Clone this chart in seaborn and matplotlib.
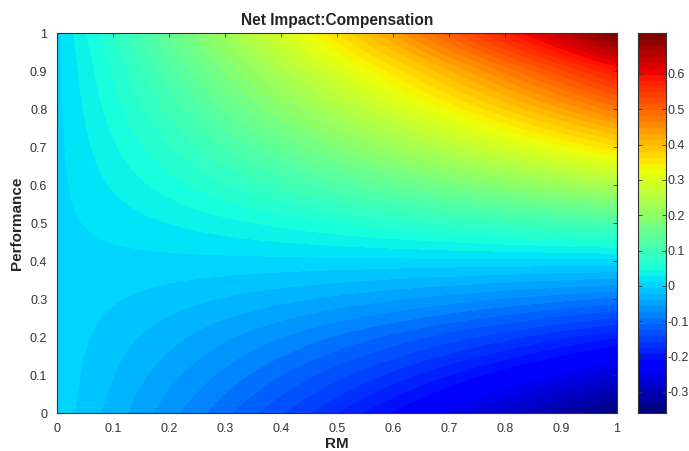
import numpy as np
import matplotlib
matplotlib.use("Agg")
import matplotlib.pyplot as plt
from matplotlib.colors import ListedColormap, BoundaryNorm
import seaborn as sns

# ---- data ----
rm_values = [0.0, 0.1, 0.2, 0.3, 0.4, 0.5, 0.6, 0.7, 0.8, 0.9, 1.0]
performance_values = [0.0, 0.1, 0.2, 0.3, 0.4, 0.5, 0.6, 0.7, 0.8, 0.9, 1.0]
# rows: Performance (0 -> 1), columns: RM (0 -> 1)
net_impact = [
    [0.005, -0.031, -0.067, -0.103, -0.139, -0.175, -0.211, -0.247, -0.283, -0.319, -0.355],
    [0.005, -0.023, -0.051, -0.079, -0.107, -0.135, -0.163, -0.191, -0.219, -0.247, -0.275],
    [0.005, -0.015, -0.034, -0.054, -0.073, -0.093, -0.112, -0.132, -0.151, -0.171, -0.190],
    [0.005, -0.005, -0.015, -0.025, -0.035, -0.045, -0.055, -0.065, -0.075, -0.085, -0.095],
    [0.005, 0.005, 0.005, 0.005, 0.005, 0.005, 0.005, 0.005, 0.005, 0.005, 0.005],
    [0.005, 0.016, 0.027, 0.038, 0.049, 0.060, 0.071, 0.082, 0.093, 0.104, 0.115],
    [0.005, 0.029, 0.052, 0.076, 0.099, 0.123, 0.146, 0.170, 0.193, 0.217, 0.240],
    [0.005, 0.041, 0.076, 0.112, 0.147, 0.183, 0.218, 0.254, 0.289, 0.325, 0.360],
    [0.005, 0.052, 0.099, 0.146, 0.193, 0.240, 0.287, 0.334, 0.381, 0.428, 0.475],
    [0.005, 0.063, 0.121, 0.179, 0.237, 0.295, 0.353, 0.411, 0.469, 0.527, 0.585],
    [0.005, 0.077, 0.148, 0.220, 0.291, 0.363, 0.434, 0.506, 0.577, 0.649, 0.720],
]
axis_ticks = [0.0, 0.1, 0.2, 0.3, 0.4, 0.5, 0.6, 0.7, 0.8, 0.9, 1.0]
axis_tick_labels = ["0", "0.1", "0.2", "0.3", "0.4", "0.5", "0.6", "0.7", "0.8", "0.9", "1"]
cbar_ticks = [-0.3, -0.2, -0.1, 0.0, 0.1, 0.2, 0.3, 0.4, 0.5, 0.6]
cbar_tick_labels = ["-0.3", "-0.2", "-0.1", "0", "0.1", "0.2", "0.3", "0.4", "0.5", "0.6"]
color_min, color_max = -0.36, 0.716

# ---- style ----
sns.set_style("white")
plt.rcParams["font.family"] = ["Liberation Sans", "DejaVu Sans"]

n_bands = 64
jet = matplotlib.colormaps["jet"]
cmap = ListedColormap(jet(np.linspace(0, 1, n_bands)))
levels = np.linspace(color_min, color_max, n_bands + 1)
norm = BoundaryNorm(levels, cmap.N)

fig = plt.figure(figsize=(6.89, 4.51), dpi=100)
ax = fig.add_axes([57 / 689, 38 / 451, 560 / 689, 380 / 451])
cax = fig.add_axes([638 / 689, 38 / 451, 28 / 689, 380 / 451])

Z = np.array(net_impact)
# pixel centres sit exactly on the grid values
dx = (rm_values[-1] - rm_values[0]) / (len(rm_values) - 1)
dy = (performance_values[-1] - performance_values[0]) / (len(performance_values) - 1)
im = ax.imshow(Z, origin="lower",
               extent=[rm_values[0] - dx / 2, rm_values[-1] + dx / 2,
                       performance_values[0] - dy / 2, performance_values[-1] + dy / 2],
               aspect="auto", cmap=cmap, norm=norm, interpolation="bilinear",
               interpolation_stage="data")

ax.set_xlim(0, 1)
ax.set_ylim(0, 1)
ax.set_xticks(axis_ticks)
ax.set_xticklabels(axis_tick_labels)
ax.set_yticks(axis_ticks)
ax.set_yticklabels(axis_tick_labels)
ax.tick_params(direction="in", length=3, width=0.6, labelsize=9, colors="#333333",
               top=True, right=True, pad=7)
for s in ax.spines.values():
    s.set_color("#333333")
    s.set_linewidth(0.8)

ax.set_title("Net Impact:Compensation", fontsize=11.2, fontweight="bold", pad=6)
ax.set_xlabel("RM", fontsize=11, fontweight="bold", labelpad=2)
ax.set_ylabel("Performance", fontsize=11, fontweight="bold", labelpad=4)

# colorbar
cb_vals = np.linspace(color_min, color_max, 512).reshape(-1, 1)
cax.imshow(cb_vals, origin="lower", extent=[0, 1, color_min, color_max],
           aspect="auto", cmap=cmap, norm=norm, interpolation="nearest")
cax.set_xlim(0, 1)
cax.set_ylim(color_min, color_max)
cax.set_xticks([])
cax.yaxis.tick_right()
cax.set_yticks(cbar_ticks)
cax.set_yticklabels(cbar_tick_labels)
cax.tick_params(axis="y", direction="in", length=3, width=0.6, labelsize=9,
                colors="#333333", left=True, right=True, pad=1)
for s in cax.spines.values():
    s.set_color("#333333")
    s.set_linewidth(0.8)

fig.savefig("out.png", dpi=100)
